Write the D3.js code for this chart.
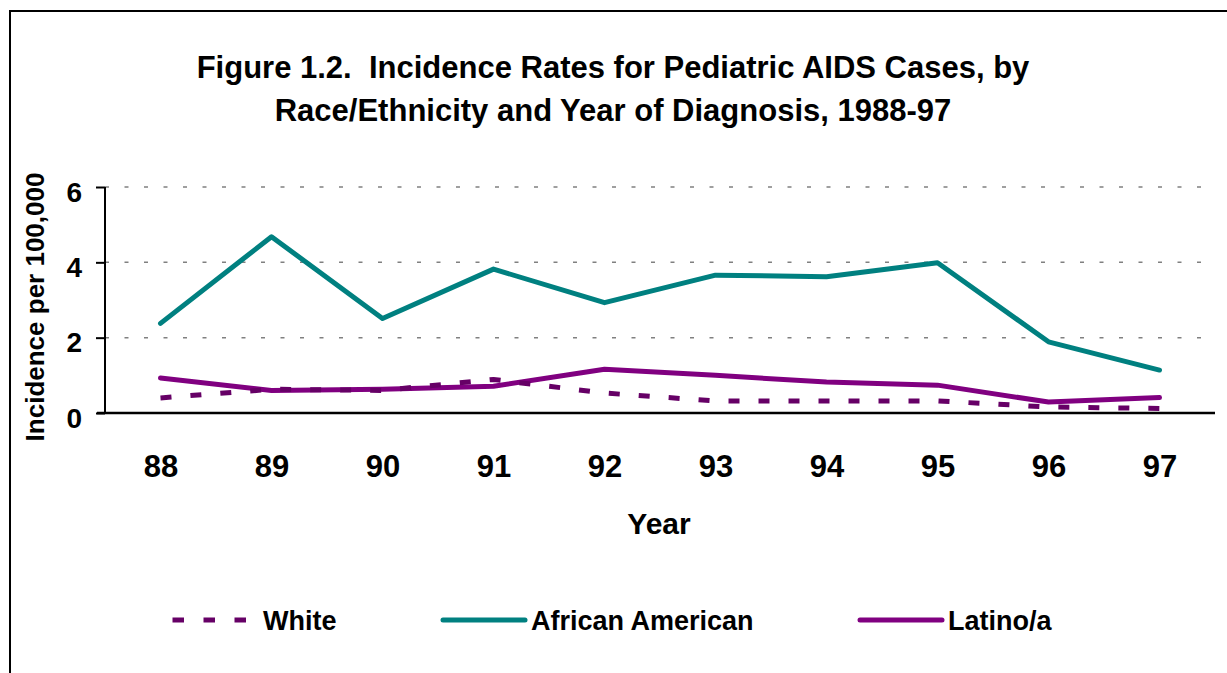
<!DOCTYPE html>
<html>
<head>
<meta charset="utf-8">
<script src="https://cdn.jsdelivr.net/npm/d3@7"></script>
<style>
  html, body { margin: 0; padding: 0; background: #fff; }
  #chart { width: 1227px; height: 673px; }
</style>
</head>
<body>
<div id="chart"></div>
<script>
var TEXTFONT = 'Liberation Sans, Arial, sans-serif';
var WIDTH = 1227;
var HEIGHT = 673;
var MARGIN = { top: 187, left: 105 };

var years = ['88', '89', '90', '91', '92', '93', '94', '95', '96', '97'];
var white = [0.40, 0.63, 0.60, 0.89, 0.53, 0.32, 0.32, 0.32, 0.16, 0.12];
var africanAmerican = [2.38, 4.68, 2.51, 3.82, 2.93, 3.66, 3.62, 3.99, 1.89, 1.14];
var latino = [0.93, 0.60, 0.63, 0.71, 1.16, 1.00, 0.82, 0.74, 0.29, 0.41];
var yTicks = [0, 2, 4, 6];
var titleLines = ['Figure 1.2.  Incidence Rates for Pediatric AIDS Cases, by',
                  'Race/Ethnicity and Year of Diagnosis, 1988-97'];

var series = [
  { name: 'White', values: white, color: '#660066', dash: '11 19' },
  { name: 'African American', values: africanAmerican, color: '#008080', dash: null },
  { name: 'Latino/a', values: latino, color: '#800080', dash: null }
];

var svg = d3.select('#chart').append('svg')
  .attr('width', WIDTH).attr('height', HEIGHT)
  .style('font-family', TEXTFONT).style('font-weight', 'bold');

// outer frame (only top and left edges are inside the picture)
svg.append('rect').attr('x', 10).attr('y', 11).attr('width', WIDTH + 20).attr('height', HEIGHT + 20)
  .attr('fill', 'none').attr('stroke', '#000').attr('stroke-width', 2);

// title
svg.append('g').selectAll('text').data(titleLines).enter().append('text')
  .attr('x', 613).attr('y', function (d, i) { return 78 + i * 43; })
  .attr('text-anchor', 'middle').style('font-size', '31px').style('white-space', 'pre')
  .text(function (d) { return d; });

var x = d3.scalePoint().domain(years).range([0, 1110]).padding(0.5);
var y = d3.scaleLinear().domain([0, 6]).range([226, 0]);

var grp = svg.append('g').attr('transform', 'translate(' + MARGIN.left + ',' + MARGIN.top + ')');

// dotted gridlines
grp.append('g').selectAll('line').data(yTicks.filter(function (d) { return d > 0; })).enter().append('line')
  .attr('x1', 0).attr('x2', 1100).attr('y1', function (d) { return y(d); }).attr('y2', function (d) { return y(d); })
  .attr('stroke', '#808080').attr('stroke-width', 1.5).attr('stroke-dasharray', '4 15.5');

// y axis
var yAxis = grp.append('g').call(d3.axisLeft(y).tickValues(yTicks).tickSize(9).tickPadding(14).tickFormat(d3.format('d')));
yAxis.select('.domain').attr('stroke-width', 2).attr('d', 'M0,0V226');
yAxis.selectAll('.tick line').attr('stroke-width', 2);
yAxis.selectAll('text').attr('dy', '0.5em').style('font-size', '28px').style('font-family', TEXTFONT)
  .style('font-weight', 'bold').attr('fill', '#000');

// x axis (no ticks)
var xAxis = grp.append('g').attr('transform', 'translate(0,' + y(0) + ')')
  .call(d3.axisBottom(x).tickSize(0).tickPadding(42));
xAxis.select('.domain').attr('stroke-width', 2.5).attr('d', 'M-8,0H1110');
xAxis.selectAll('text').style('font-size', '31px').style('font-family', TEXTFONT)
  .style('font-weight', 'bold').attr('fill', '#000');

// axis titles
svg.append('text').attr('x', 659).attr('y', 534).attr('text-anchor', 'middle').style('font-size', '30px').text('Year');
svg.append('text').attr('transform', 'translate(44,307) rotate(-90)').attr('text-anchor', 'middle')
  .style('font-size', '26px').text('Incidence per 100,000');

// lines
var line = d3.line().x(function (d, i) { return x(years[i]); }).y(function (d) { return y(d); });
[series[2], series[0], series[1]].forEach(function (s) {
  grp.append('path').datum(s.values).attr('d', line)
    .attr('fill', 'none').attr('stroke', s.color).attr('stroke-width', 5)
    .attr('stroke-linejoin', 'round').attr('stroke-linecap', s.dash ? 'butt' : 'round')
    .attr('stroke-dasharray', s.dash);
});

// legend
var legendX = [172.5, 443, 860];
var leg = svg.append('g').selectAll('g').data(series).enter().append('g')
  .attr('transform', function (d, i) { return 'translate(' + legendX[i] + ',620)'; });
leg.append('line').attr('x1', 0).attr('x2', function (d) { return d.dash ? 74 : 82; }).attr('y1', 0).attr('y2', 0)
  .attr('stroke', function (d) { return d.color; }).attr('stroke-width', 5)
  .attr('stroke-linecap', function (d) { return d.dash ? 'butt' : 'round'; })
  .attr('stroke-dasharray', function (d) { return d.dash ? '11.5 19.5' : null; });
leg.append('text').attr('x', function (d) { return d.dash ? 90.5 : 88; }).attr('y', 10).style('font-size', '27px')
  .text(function (d) { return d.name; });
</script>
</body>
</html>
